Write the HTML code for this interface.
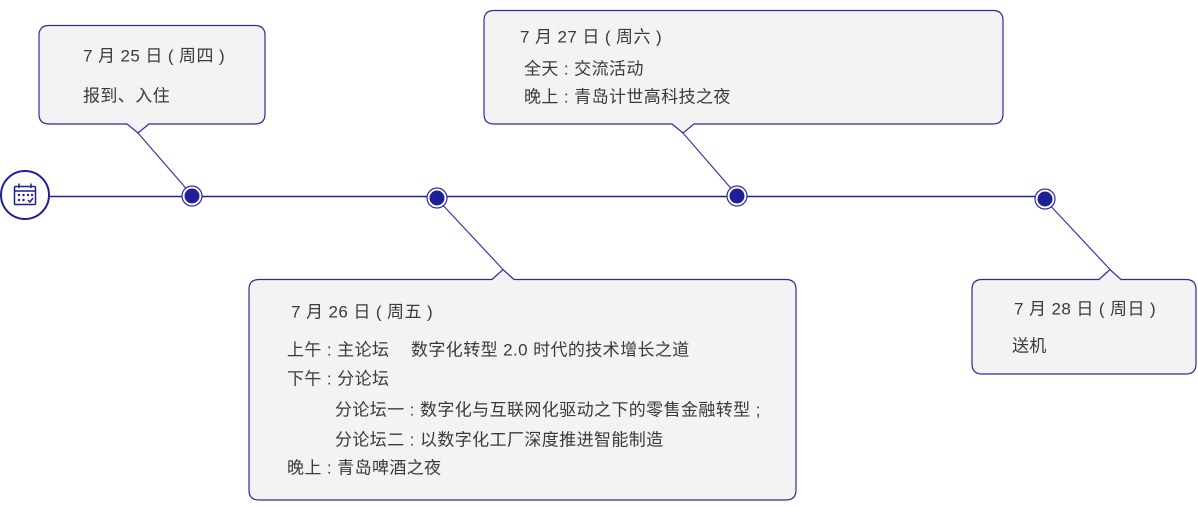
<!DOCTYPE html>
<html><head><meta charset="utf-8"><style>
html,body{margin:0;padding:0;background:#fff;}
svg text{font-family:"Liberation Sans","Noto Sans CJK SC",sans-serif;font-size:17px;letter-spacing:0.4px;fill:#3a3a3a;dominant-baseline:central;}
</style></head><body>
<svg width="1198" height="502" viewBox="0 0 1198 502" xmlns="http://www.w3.org/2000/svg">
<g fill="#f3f3f3" stroke="#2b2b9c" stroke-width="1.2">
<path d="M49,25.5 H255 Q265,25.5 265,35.5 V114 Q265,124 255,124 H149 L138,133 L127,124 H49 Q39,124 39,114 V35.5 Q39,25.5 49,25.5 Z"/>
<path d="M494,10.5 H993 Q1003,10.5 1003,20.5 V114 Q1003,124 993,124 H694 L683,133 L672,124 H494 Q484,124 484,114 V20.5 Q484,10.5 494,10.5 Z"/>
<path d="M259,279.5 H492 L503,269.5 L514,279.5 H786 Q796,279.5 796,289.5 V490 Q796,500 786,500 H259 Q249,500 249,490 V289.5 Q249,279.5 259,279.5 Z"/>
<path d="M982,279.5 H1099 L1110,269.5 L1121,279.5 H1186 Q1196,279.5 1196,289.5 V364 Q1196,374 1186,374 H982 Q972,374 972,364 V289.5 Q972,279.5 982,279.5 Z"/>
</g>
<g stroke="#3636a8" stroke-width="1.2" fill="none">
<line x1="138" y1="133" x2="190" y2="193"/>
<line x1="683" y1="133" x2="735" y2="193"/>
<line x1="503" y1="269.5" x2="439" y2="201"/>
<line x1="1110" y1="269.5" x2="1047" y2="202"/>
</g>
<line x1="49" y1="196.5" x2="1045" y2="196.5" stroke="#1f1f96" stroke-width="1.5"/>
<g>
<circle cx="192" cy="196" r="10" fill="#fff" stroke="#2b2b9c" stroke-width="1.2"/><circle cx="192" cy="196" r="7.5" fill="#1f1f96"/>
<circle cx="437" cy="198" r="10" fill="#fff" stroke="#2b2b9c" stroke-width="1.2"/><circle cx="437" cy="198" r="7.5" fill="#1f1f96"/>
<circle cx="737" cy="196" r="10" fill="#fff" stroke="#2b2b9c" stroke-width="1.2"/><circle cx="737" cy="196" r="7.5" fill="#1f1f96"/>
<circle cx="1045" cy="199" r="10" fill="#fff" stroke="#2b2b9c" stroke-width="1.2"/><circle cx="1045" cy="199" r="7.5" fill="#1f1f96"/>
</g>
<circle cx="25" cy="195" r="24" fill="#fff" stroke="#1f1f96" stroke-width="2"/>
<g stroke="#1f1f96" stroke-width="1.5" fill="none">
<rect x="14.5" y="186.5" width="21" height="18" rx="1"/>
<line x1="14.5" y1="191" x2="35.5" y2="191"/>
<line x1="19" y1="183.5" x2="19" y2="188"/><line x1="31" y1="183.5" x2="31" y2="188"/>
<polyline points="28,200 30,202 33,198"/>
</g>
<g fill="#1f1f96">
<circle cx="19" cy="195" r="1.2"/><circle cx="23.5" cy="195" r="1.2"/><circle cx="28" cy="195" r="1.2"/><circle cx="32" cy="195" r="1.2"/>
<circle cx="19" cy="200" r="1.2"/><circle cx="23.5" cy="200" r="1.2"/>
</g>
<text x="83" y="56">7 月 25 日 ( 周四 )</text>
<text x="83" y="96">报到、入住</text>
<text x="520" y="37">7 月 27 日 ( 周六 )</text>
<text x="524" y="69">全天 : 交流活动</text>
<text x="524" y="97">晚上 : 青岛计世高科技之夜</text>
<text x="291" y="312">7 月 26 日 ( 周五 )</text>
<text x="287" y="350">上午 : 主论坛</text>
<text x="411" y="350">数字化转型 2.0 时代的技术增长之道</text>
<text x="287" y="379">下午 : 分论坛</text>
<text x="335" y="410">分论坛一 : 数字化与互联网化驱动之下的零售金融转型 ;</text>
<text x="335" y="440">分论坛二 : 以数字化工厂深度推进智能制造</text>
<text x="287" y="468">晚上 : 青岛啤酒之夜</text>
<text x="1014" y="309">7 月 28 日 ( 周日 )</text>
<text x="1012" y="346">送机</text>
</svg>
</body></html>
